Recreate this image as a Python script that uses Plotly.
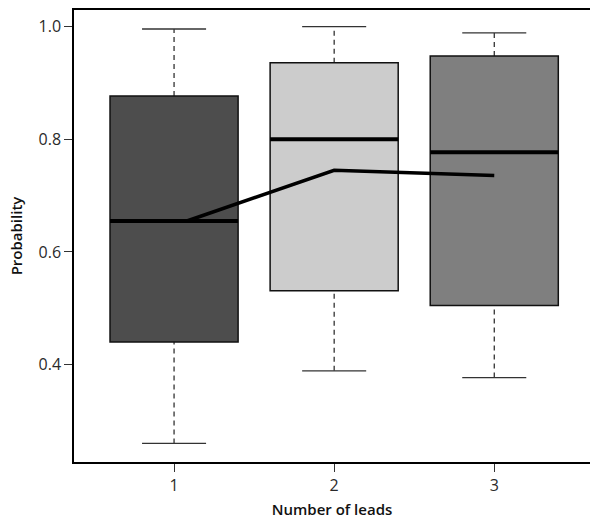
import plotly.graph_objects as go

categories = [1, 2, 3]
q1 = [0.440, 0.531, 0.505]
median = [0.655, 0.800, 0.777]
q3 = [0.877, 0.936, 0.948]
lower = [0.260, 0.389, 0.377]
upper = [0.996, 1.000, 0.989]
fills = ["#4D4D4D", "#CCCCCC", "#7F7F7F"]

line_x = [1.08, 2, 3]
line_y = [0.655, 0.745, 0.736]

ytick_vals = [0.4, 0.6, 0.8, 1.0]
ytick_text = ["0.4", "0.6", "0.8", "1.0"]

BOX_HALF = 0.4
CAP_HALF = 0.2

fig = go.Figure()
shapes = []
for c, a, m, b, lo, hi, f in zip(categories, q1, median, q3, lower, upper, fills):
    for y0, y1 in ((b, hi), (lo, a)):
        shapes.append(dict(type="line", xref="x", yref="y", x0=c, x1=c, y0=y0, y1=y1,
                           line=dict(color="#222222", width=1.2, dash="5px,4px"), layer="below"))
    for y in (hi, lo):
        shapes.append(dict(type="line", xref="x", yref="y", x0=c - CAP_HALF, x1=c + CAP_HALF,
                           y0=y, y1=y, line=dict(color="#333333", width=1.3), layer="below"))
    shapes.append(dict(type="rect", xref="x", yref="y", x0=c - BOX_HALF, x1=c + BOX_HALF,
                       y0=a, y1=b, fillcolor=f, line=dict(color="#111111", width=1.5),
                       layer="below"))
    shapes.append(dict(type="line", xref="x", yref="y", x0=c - BOX_HALF, x1=c + BOX_HALF,
                       y0=m, y1=m, line=dict(color="#000000", width=4), layer="below"))

fig.add_trace(go.Scatter(x=line_x, y=line_y, mode="lines",
                         line=dict(color="#000000", width=3.5), showlegend=False,
                         hoverinfo="skip"))

font_fam = "Open Sans"
title_font = dict(family=font_fam, size=15, color="#111111", weight=600)
fig.update_layout(
    width=590, height=520,
    margin=dict(l=74, r=0, t=10, b=58, autoexpand=False),
    paper_bgcolor="white", plot_bgcolor="white",
    shapes=shapes,
    showlegend=False,
    font=dict(family=font_fam, size=15, color="#222222"),
)
fig.update_xaxes(
    range=[0.375, 3.598], tickvals=categories, ticktext=[str(c) for c in categories],
    showgrid=False, zeroline=False, showline=True, linecolor="#000000", linewidth=1.5,
    mirror=True, ticks="outside", ticklen=8, tickwidth=1.2, tickcolor="#333333",
    tickfont=dict(family=font_fam, size=16, color="#2a2a2a"), automargin=False,
    title=dict(text="Number of leads", font=title_font, standoff=10),
)
fig.update_yaxes(
    range=[0.227, 1.0297], tickvals=ytick_vals, ticktext=ytick_text,
    showgrid=False, zeroline=False, showline=True, linecolor="#000000", linewidth=1.5,
    ticks="outside", ticklen=8, tickwidth=1.2, tickcolor="#333333",
    tickfont=dict(family=font_fam, size=16, color="#2a2a2a"), automargin=False,
    title=dict(text="Probability", font=title_font, standoff=12),
)

fig.write_html("out.html", config={"displayModeBar": False},
               post_script="document.body.style.margin='0px';")
